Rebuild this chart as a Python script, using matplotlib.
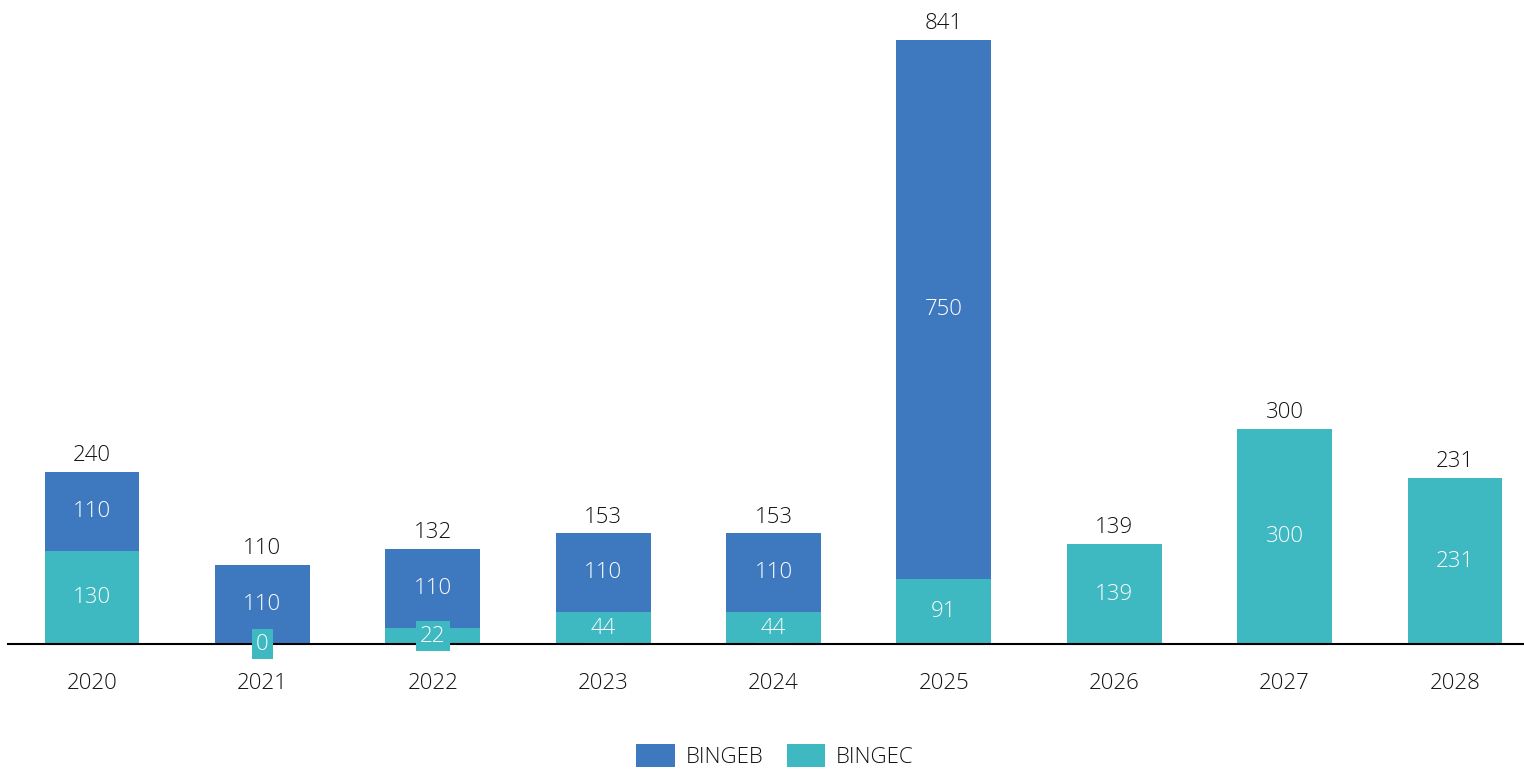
import matplotlib.pyplot as plt
import numpy as np

years = ['2020', '2021', '2022', '2023', '2024', '2025', '2026', '2027', '2028']
bingec = [130, 0, 22, 44, 44, 91, 139, 300, 231]
bingeb = [110, 110, 110, 110, 110, 750, 0, 0, 0]
totals = [240, 110, 132, 153, 153, 841, 139, 300, 231]

col_b = '#3E79BF'
col_c = '#3FB9C1'
txt = '#111111'
fs = 16

plt.rcParams['font.family'] = ['Open Sans', 'DejaVu Sans']

fig = plt.figure(figsize=(15.24, 7.69), dpi=100)
ax = fig.add_axes([8 / 1524, 125 / 769, 1 - 8 / 1524, 644 / 769])

x = np.arange(len(years))
w = 0.557
ax.bar(x, bingec, w, color=col_c, label='BINGEC', zorder=2)
ax.bar(x, bingeb, w, bottom=bingec, color=col_b, label='BINGEB', zorder=2)

for i in range(len(years)):
    c = bingec[i]
    b = bingeb[i]
    # BINGEC labels carry a filled box so small values stay readable
    if c > 0 or b > 0:
        ax.text(x[i], c / 2, str(c), ha='center', va='center', color='white',
                fontsize=fs, fontweight='light', zorder=4, clip_on=False,
                bbox=dict(facecolor=col_c, edgecolor='none', pad=3.0))
    if b > 0:
        ax.text(x[i], c + b / 2, str(b), ha='center', va='center', color='white',
                fontsize=fs, fontweight='light', zorder=4)
    ax.text(x[i], c + b + 8, str(totals[i]), ha='center', va='bottom',
            color=txt, fontsize=fs, fontweight='light')

ax.set_xlim(-0.493, 8.405)
ax.set_ylim(0, 896.7)
ax.set_xticks(x)
ax.set_xticklabels(years, fontsize=fs, fontweight='light', color=txt)
ax.tick_params(axis='x', length=0, pad=21)
ax.set_yticks([])
for s in ['top', 'right', 'left']:
    ax.spines[s].set_visible(False)
ax.spines['bottom'].set_linewidth(1.5)
ax.spines['bottom'].set_zorder(3)

h, l = ax.get_legend_handles_labels()
leg = fig.legend(h[::-1], l[::-1], loc='center', bbox_to_anchor=(775 / 1524, 1 - 756 / 769),
                 ncol=2, frameon=False, fontsize=fs, handlelength=1.72, handleheight=1.2,
                 columnspacing=1.05, handletextpad=0.5)
for t in leg.get_texts():
    t.set_fontweight('light')
    t.set_color(txt)

fig.savefig('out.png', dpi=100)
